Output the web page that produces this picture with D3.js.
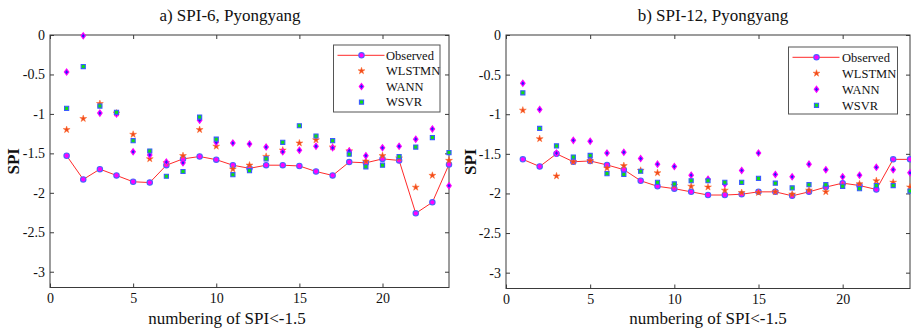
<!DOCTYPE html>
<html>
<head>
<meta charset="utf-8">
<script src="https://cdn.jsdelivr.net/npm/d3@7/dist/d3.min.js"></script>
<style>
  html, body { margin: 0; padding: 0; background: #fff; }
  svg { display: block; font-family: "Liberation Serif", "Times New Roman", serif; }
</style>
</head>
<body>
<svg id="chart" width="911" height="329"></svg>
<script>
// Event index (numbering of SPI < -1.5)
const events = d3.range(1, 25);

// Panel a) SPI-6, Pyongyang
const spi6Observed = [-1.53, -1.83, -1.70, -1.78, -1.86, -1.87, -1.65, -1.57, -1.54, -1.58, -1.65, -1.69,
                      -1.65, -1.65, -1.66, -1.73, -1.78, -1.61, -1.62, -1.57, -1.59, -2.26, -2.12, -1.64];
const spi6WLSTMN   = [-1.20, -1.06, -0.87, -0.99, -1.26, -1.57, -1.62, -1.53, -1.20, -1.41, -1.70, -1.65,
                      -1.54, -1.46, -1.37, -1.33, -1.42, -1.47, -1.60, -1.53, -1.56, -1.93, -1.78, -1.59];
const spi6WANN     = [-0.47, -0.01, -0.99, -1.00, -1.48, -1.52, -1.61, -1.62, -1.08, -1.36, -1.37, -1.38,
                      -1.42, -1.48, -1.46, -1.41, -1.43, -1.47, -1.53, -1.43, -1.41, -1.32, -1.19, -1.91];
const spi6WSVR     = [-0.93, -0.40, -0.90, -0.98, -1.34, -1.47, -1.79, -1.73, -1.04, -1.32, -1.77, -1.72,
                      -1.57, -1.36, -1.15, -1.28, -1.34, -1.51, -1.67, -1.65, -1.54, -1.42, -1.30, -1.49];

// Panel b) SPI-12, Pyongyang
const spi12Observed = [-1.57, -1.66, -1.50, -1.60, -1.59, -1.64, -1.70, -1.84, -1.91, -1.94, -1.98, -2.02,
                       -2.02, -2.01, -1.98, -1.98, -2.03, -1.98, -1.92, -1.87, -1.90, -1.95, -1.57, -1.57];
const spi12WLSTMN   = [-0.95, -1.31, -1.78, -1.60, -1.59, -1.68, -1.65, -1.71, -1.74, -1.90, -1.91, -1.92,
                       -1.96, -1.99, -1.99, -1.98, -2.01, -1.96, -1.98, -1.90, -1.88, -1.84, -1.86, -1.92];
const spi12WANN     = [-0.61, -0.94, -1.49, -1.33, -1.34, -1.49, -1.48, -1.56, -1.63, -1.66, -1.77, -1.82,
                       -1.88, -1.71, -1.49, -1.76, -1.79, -1.63, -1.70, -1.79, -1.77, -1.67, -1.70, -1.74];
const spi12WSVR     = [-0.73, -1.18, -1.40, -1.54, -1.52, -1.75, -1.76, -1.72, -1.86, -1.88, -1.84, -1.84,
                       -1.86, -1.86, -1.81, -1.87, -1.93, -1.89, -1.89, -1.91, -1.94, -1.90, -1.90, -1.97];

const seriesNames = ["Observed", "WLSTMN", "WANN", "WSVR"];
const xTicks = [0, 5, 10, 15, 20];
const yTicks = [0, -0.5, -1, -1.5, -2, -2.5, -3];
const xDomain = [0, 24];
const yDomain = [-3.2, 0];

const svg = d3.select("#chart");

const panels = [
  { title: "a) SPI-6, Pyongyang", left: 50, right: 449, top: 35, bottom: 287.5,
    titleX: 230, xlabelX: 227,
    legend: { x: 333.5, y: 45, w: 106.5, h: 67, textX: 386, rowH: 15.6 },
    ylabelX: 13,
    data: [spi6Observed, spi6WLSTMN, spi6WANN, spi6WSVR] },
  { title: "b) SPI-12, Pyongyang", left: 506, right: 910, top: 35, bottom: 288.5,
    titleX: 713, xlabelX: 708,
    legend: { x: 788.5, y: 47, w: 109, h: 67, textX: 842, rowH: 16 },
    ylabelX: 470,
    data: [spi12Observed, spi12WLSTMN, spi12WANN, spi12WSVR] }
];

const axisColor = "#3a3a3a";
const starSym = d3.symbol().type(d3.symbolStar).size(15);
const squareSym = d3.symbol().type(d3.symbolSquare).size(17);
// narrow diamond, taller than wide
const diamondPath = "M0,-3L2.2,0L0,3L-2.2,0Z";

function drawObserved(g, x, y) {
  g.append("circle").attr("cx", x).attr("cy", y).attr("r", 2.7)
    .attr("fill", "#ff00ff").attr("stroke", "#4a63ff").attr("stroke-width", 1.1);
}
function drawStar(g, x, y) {
  g.append("path").attr("d", starSym()).attr("transform", `translate(${x},${y})`)
    .attr("fill", "#f04a1a").attr("stroke", "#ff6a30").attr("stroke-width", 0.5);
}
function drawDiamond(g, x, y) {
  g.append("path").attr("d", diamondPath).attr("transform", `translate(${x},${y})`)
    .attr("fill", "#2020ff").attr("stroke", "#ff00ff").attr("stroke-width", 1.2);
}
function drawSquare(g, x, y) {
  g.append("path").attr("d", squareSym()).attr("transform", `translate(${x},${y})`)
    .attr("fill", "#10e010").attr("stroke", "#3a5cff").attr("stroke-width", 1.1);
}
const drawers = [drawObserved, drawStar, drawDiamond, drawSquare];

panels.forEach(p => {
  const x = d3.scaleLinear().domain(xDomain).range([p.left, p.right]);
  const y = d3.scaleLinear().domain(yDomain).range([p.bottom, p.top]);
  const g = svg.append("g");

  // Axes on all four sides, ticks pointing inward
  const tickLen = 4;
  g.append("g").attr("transform", `translate(0,${p.bottom})`)
    .call(d3.axisBottom(x).tickValues(xTicks).tickSizeInner(-tickLen).tickSizeOuter(0).tickPadding(6).tickFormat(d3.format("d")))
    .call(a => a.select(".domain").remove());
  g.append("g").attr("transform", `translate(0,${p.top})`)
    .call(d3.axisTop(x).tickValues(xTicks).tickSizeInner(-tickLen).tickSizeOuter(0).tickFormat(""))
    .call(a => a.select(".domain").remove());
  g.append("g").attr("transform", `translate(${p.left},0)`)
    .call(d3.axisLeft(y).tickValues(yTicks).tickSizeInner(-tickLen).tickSizeOuter(0).tickPadding(5)
      .tickFormat(d => d === 0 ? "0" : String(d)))
    .call(a => a.select(".domain").remove());
  g.append("g").attr("transform", `translate(${p.right},0)`)
    .call(d3.axisRight(y).tickValues(yTicks).tickSizeInner(-tickLen).tickSizeOuter(0).tickFormat(""))
    .call(a => a.select(".domain").remove());

  g.selectAll(".tick line").attr("stroke", axisColor);
  g.selectAll(".tick text").attr("font-family", "Liberation Serif, serif")
    .attr("font-size", 14).attr("fill", "#111");

  // Frame
  g.append("rect").attr("x", p.left).attr("y", p.top)
    .attr("width", p.right - p.left).attr("height", p.bottom - p.top)
    .attr("fill", "none").attr("stroke", axisColor).attr("stroke-width", 1);

  // Observed line
  const line = d3.line().x((d, i) => x(events[i])).y(d => y(d));
  g.append("path").datum(p.data[0]).attr("d", line)
    .attr("fill", "none").attr("stroke", "#ff2a2a").attr("stroke-width", 1);

  // Markers: observed first, then model series on top
  p.data.forEach((series, si) => {
    const mg = g.append("g");
    series.forEach((v, i) => drawers[si](mg, x(events[i]), y(v)));
  });

  // Title
  g.append("text").attr("x", p.titleX).attr("y", 21)
    .attr("text-anchor", "middle").attr("font-size", 17).attr("fill", "#111").text(p.title);

  // Axis labels
  g.append("text").attr("x", p.xlabelX).attr("y", 324)
    .attr("text-anchor", "middle").attr("font-size", 17).attr("fill", "#111")
    .text("numbering of SPI<-1.5");
  g.append("text").attr("transform", `translate(${p.ylabelX},${(p.top + p.bottom) / 2}) rotate(-90)`)
    .attr("text-anchor", "middle").attr("dy", "0.35em").attr("font-size", 17).attr("font-weight", "bold")
    .attr("fill", "#111").text("SPI");

  // Legend
  const L = p.legend;
  const lg = g.append("g");
  lg.append("rect").attr("x", L.x).attr("y", L.y).attr("width", L.w).attr("height", L.h)
    .attr("fill", "#fff").attr("stroke", "#555").attr("stroke-width", 1);
  const symX = L.x + 28;
  seriesNames.forEach((name, i) => {
    const ry = L.y + 10.3 + i * L.rowH;
    if (i === 0) {
      lg.append("line").attr("x1", L.x + 4).attr("x2", L.x + 51).attr("y1", ry).attr("y2", ry)
        .attr("stroke", "#ff2a2a").attr("stroke-width", 1);
    }
    drawers[i](lg, symX, ry);
    lg.append("text").attr("x", L.textX).attr("y", ry).attr("dy", "0.35em")
      .attr("text-anchor", "start").attr("font-size", 12.5).attr("fill", "#111").text(name);
  });
});
</script>
</body>
</html>
